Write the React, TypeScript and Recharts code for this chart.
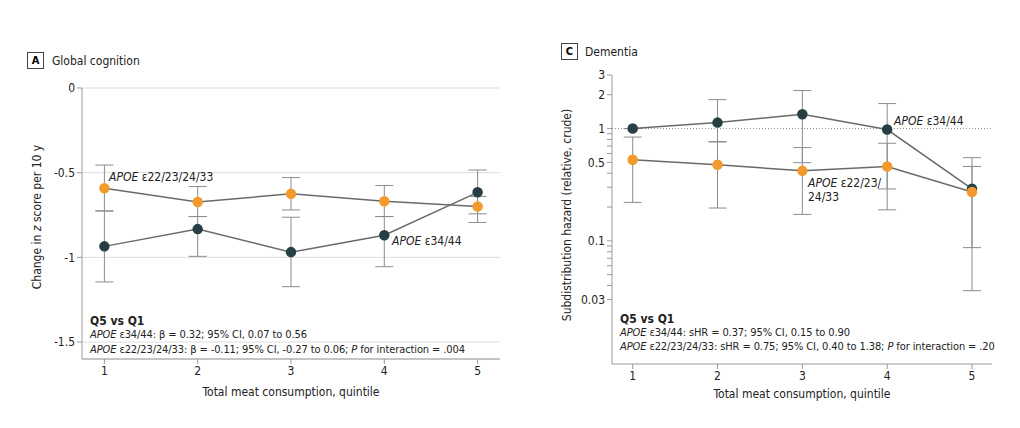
import { LineChart, Line, XAxis, YAxis, CartesianGrid, ErrorBar, ReferenceLine } from "recharts";

const DARK = "#263f45";
const ORANGE = "#f39a2d";
const LINE = "#6a6a6a";
const BAR = "#8c8c8c";
const AXIS = "#9a9a9a";
const FONT = "'DejaVu Sans Condensed', 'Noto Sans', sans-serif";

const quintiles = [1, 2, 3, 4, 5];

// Panel A: global cognition
const cogHigh = [-0.935, -0.833, -0.969, -0.869, -0.616];
const cogHighLo = [-1.145, -0.994, -1.173, -1.055, -0.743];
const cogHighHi = [-0.727, -0.759, -0.763, -0.759, -0.484];
const cogLow = [-0.592, -0.673, -0.625, -0.669, -0.7];
const cogLowLo = [-0.725, -0.759, -0.72, -0.759, -0.794];
const cogLowHi = [-0.455, -0.582, -0.529, -0.576, -0.64];
const cogTicks = [0, -0.5, -1, -1.5];

// Panel C: dementia
const demHigh = [1.0, 1.13, 1.34, 0.98, 0.291];
const demHighLo = [1.0, 0.765, 0.497, 0.29, 0.087];
const demHighHi = [1.0, 1.81, 2.18, 1.67, 0.46];
const demLow = [0.528, 0.477, 0.42, 0.46, 0.272];
const demLowLo = [0.22, 0.196, 0.172, 0.189, 0.036];
const demLowHi = [0.84, 0.76, 0.677, 0.74, 0.551];
const demTicks = [0.03, 0.04, 0.05, 0.06, 0.07, 0.08, 0.09, 0.1, 0.2, 0.3, 0.4, 0.5, 0.6, 0.7, 0.8, 0.9, 1, 2, 3];
const demLabels = [0.03, 0.1, 0.5, 1, 2, 3];

const build = (hi: number[], hiLo: number[], hiHi: number[], lo: number[], loLo: number[], loHi: number[]) =>
  quintiles.map((q, i) => ({
    q,
    high: hi[i],
    highErr: [hi[i] - hiLo[i], hiHi[i] - hi[i]],
    low: lo[i],
    lowErr: [lo[i] - loLo[i], loHi[i] - lo[i]],
  }));

const cogData = build(cogHigh, cogHighLo, cogHighHi, cogLow, cogLowLo, cogLowHi);
const demData = build(demHigh, demHighLo, demHighHi, demLow, demLowLo, demLowHi);

const tickStyle = { fontSize: 12, fill: "#222", fontFamily: FONT };
const small = { fontSize: 11, letterSpacing: -0.1 };

function Txt({ x, y, children, style }: { x: number; y: number; children: any; style?: any }) {
  return (
    <div style={{ position: "absolute", left: x, top: y, fontSize: 12, fontFamily: FONT, color: "#222", whiteSpace: "nowrap", lineHeight: "14px", ...style }}>
      {children}
    </div>
  );
}

const Box = ({ x, y, label }: { x: number; y: number; label: string }) => (
  <div style={{ position: "absolute", left: x, top: y, width: 15, height: 15, border: "1px solid #444", fontFamily: FONT, fontSize: 11, fontWeight: "bold", textAlign: "center", lineHeight: "15px" }}>
    {label}
  </div>
);

const series = () => [
  <Line key="h" dataKey="high" stroke={LINE} strokeWidth={1.5} isAnimationActive={false}
    dot={{ r: 4.5, fill: DARK, stroke: DARK }}>
    <ErrorBar dataKey="highErr" direction="y" width={9} stroke={BAR} strokeWidth={1} />
  </Line>,
  <Line key="l" dataKey="low" stroke={LINE} strokeWidth={1.5} isAnimationActive={false}
    dot={{ r: 4.5, fill: ORANGE, stroke: ORANGE }}>
    <ErrorBar dataKey="lowErr" direction="y" width={9} stroke={BAR} strokeWidth={1} />
  </Line>,
];

export default function App() {
  return (
    <div style={{ position: "fixed", left: 0, top: 0, width: 1020, height: 428, background: "#fff", overflow: "hidden" }}>
      <div style={{ position: "absolute", left: 0, top: 0 }}>
        <LineChart width={520} height={428} data={cogData} margin={{ top: 88, left: 42, right: 20, bottom: 39 }}>
          <CartesianGrid vertical={false} stroke="#dddddd" />
          <XAxis dataKey="q" type="number" domain={[0.76, 5.24]} ticks={quintiles} tick={tickStyle}
            stroke={AXIS} tickSize={5} height={30} />
          <YAxis type="number" domain={[-1.6, 0]} ticks={cogTicks} tick={tickStyle} stroke={AXIS}
            tickSize={5} width={40} tickFormatter={(v: number) => String(v)} />
          {series()}
        </LineChart>
      </div>
      <div style={{ position: "absolute", left: 530, top: 0 }}>
        <LineChart width={490} height={428} data={demData} margin={{ top: 75, left: 42, right: 28, bottom: 34 }}>
          <XAxis dataKey="q" type="number" domain={[0.756, 5.236]} ticks={quintiles} tick={tickStyle}
            stroke={AXIS} tickSize={5} height={30} />
          <YAxis type="number" scale="log" domain={[0.008, 3]} ticks={demTicks} tick={tickStyle} stroke={AXIS}
            tickSize={5} width={40} allowDataOverflow interval={0}
            tickFormatter={(v: number) => (demLabels.includes(v) ? String(v) : "")} />
          <ReferenceLine y={1} stroke="#888" strokeDasharray="1 2" />
          {series()}
        </LineChart>
      </div>

      {/* Panel A text */}
      <Box x={27} y={52} label="A" />
      <Txt x={52} y={54}>Global cognition</Txt>
      <Txt x={109} y={170}><i>APOE</i> ε22/23/24/33</Txt>
      <Txt x={392} y={234}><i>APOE</i> ε34/44</Txt>
      <Txt x={90} y={314} style={{ fontWeight: "bold" }}>Q5 vs Q1</Txt>
      <Txt x={90} y={328} style={small}><i>APOE</i> ε34/44: β = 0.32; 95% CI, 0.07 to 0.56</Txt>
      <Txt x={90} y={343} style={small}><i>APOE</i> ε22/23/24/33: β = -0.11; 95% CI, -0.27 to 0.06; <i>P</i> for interaction = .004</Txt>
      <Txt x={291} y={385} style={{ transform: "translateX(-50%)" }}>Total meat consumption, quintile</Txt>
      <Txt x={37} y={217} style={{ transform: "translate(-50%, -50%) rotate(-90deg)" }}>
        Change in <i>z</i> score per 10 y
      </Txt>

      {/* Panel C text */}
      <Box x={561} y={43} label="C" />
      <Txt x={585} y={45}>Dementia</Txt>
      <Txt x={894} y={114}><i>APOE</i> ε34/44</Txt>
      <Txt x={808} y={176}><i>APOE</i> ε22/23/<br />24/33</Txt>
      <Txt x={620} y={312} style={{ fontWeight: "bold" }}>Q5 vs Q1</Txt>
      <Txt x={620} y={326} style={small}><i>APOE</i> ε34/44: sHR = 0.37; 95% CI, 0.15 to 0.90</Txt>
      <Txt x={620} y={340} style={small}><i>APOE</i> ε22/23/24/33: sHR = 0.75; 95% CI, 0.40 to 1.38; <i>P</i> for interaction = .20</Txt>
      <Txt x={802} y={387} style={{ transform: "translateX(-50%)" }}>Total meat consumption, quintile</Txt>
      <Txt x={567} y={215} style={{ transform: "translate(-50%, -50%) rotate(-90deg)" }}>
        Subdistribution hazard (relative, crude)
      </Txt>
    </div>
  );
}
